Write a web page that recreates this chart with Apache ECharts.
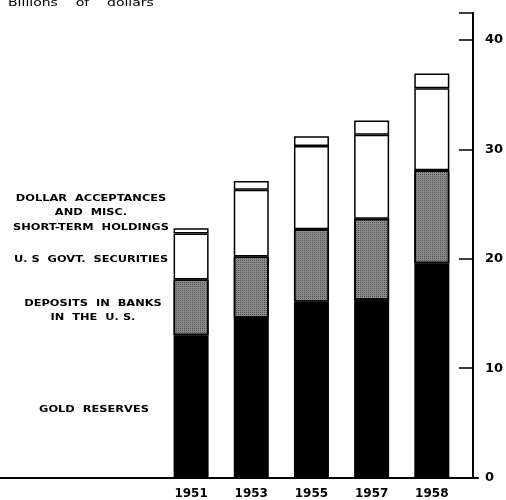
<!DOCTYPE html>
<html>
<head>
<meta charset="utf-8">
<script src="https://cdn.jsdelivr.net/npm/echarts@6/dist/echarts.min.js"></script>
<style>
html,body{margin:0;padding:0;background:#fff;}
#main{width:506px;height:500px;}
</style>
</head>
<body>
<div id="main"></div>
<script>
const years = ['1951', '1953', '1955', '1957', '1958'];
const goldReserves = [13.0, 14.6, 16.1, 16.25, 19.6];
const depositsInBanks = [5.1, 5.6, 6.6, 7.4, 8.5];
const govtSecurities = [4.2, 6.1, 7.6, 7.7, 7.5];
const acceptancesMisc = [0.5, 0.8, 0.9, 1.3, 1.35];
const yTickLabels = [0, 10, 20, 30, 40];

const chart = echarts.init(document.getElementById('main'));
const fontFam = '"DejaVu Sans", sans-serif';

function segStyle(color, extra) {
  return Object.assign({ color: color, borderColor: '#000', borderWidth: 1.5 }, extra || {});
}
function label(text, x, y) {
  return {
    type: 'text', x: x, y: y, scaleX: 1.2,
    style: { text: text, textAlign: 'center', textVerticalAlign: 'middle', fontFamily: fontFam, fontWeight: 'bold', fontSize: 9.5, fill: '#000' }
  };
}

const option = {
  animation: false,
  backgroundColor: '#fff',
  grid: [
    { left: 161, right: 44, top: 12.7, bottom: 22.5 },
    { left: 0, right: 28, top: 12.7, bottom: 22.5 }
  ],
  xAxis: [
    {
      type: 'category', data: years, gridIndex: 0,
      axisLine: { show: false }, axisTick: { show: false },
      axisLabel: { color: '#000', fontFamily: fontFam, fontWeight: 'bold', fontSize: 12, margin: 10 }
    },
    {
      type: 'value', gridIndex: 1, min: 0, max: 1,
      axisLine: { show: true, onZero: false, lineStyle: { color: '#000', width: 2 } },
      axisTick: { show: false }, axisLabel: { show: false }, splitLine: { show: false }
    }
  ],
  yAxis: [
    {
      type: 'value', gridIndex: 0, position: 'right', offset: 11,
      min: 0, max: 42.5, interval: 10,
      axisLine: { show: true, lineStyle: { color: '#000', width: 2 } },
      axisTick: { show: true, inside: true, length: 14, lineStyle: { color: '#000', width: 1.5 } },
      axisLabel: {
        color: '#000', fontFamily: fontFam, fontWeight: 'bold', fontSize: 13, margin: 12,
        formatter: function (v) { return yTickLabels.indexOf(v) >= 0 ? String(v) : ''; }
      },
      splitLine: { show: false }
    },
    { type: 'value', gridIndex: 1, show: false, min: 0, max: 1 }
  ],
  graphic: [
    { type: 'text', x: 8, y: 3.5, scaleX: 1.4, style: { text: 'Billions    of    dollars', textVerticalAlign: 'middle', fontFamily: fontFam, fontSize: 10, fill: '#000' } },
    label('DOLLAR  ACCEPTANCES', 91, 199),
    label('AND  MISC.', 91, 213),
    label('SHORT-TERM  HOLDINGS', 91, 228),
    label('U. S  GOVT.  SECURITIES', 91, 260),
    label('DEPOSITS  IN  BANKS', 93, 304),
    label('IN  THE  U. S.', 93, 318),
    label('GOLD  RESERVES', 94, 410)
  ],
  series: [
    { name: 'Gold reserves', type: 'bar', stack: 'total', data: goldReserves, barWidth: 35, itemStyle: segStyle('#000') },
    {
      name: 'Deposits in banks in the U.S.', type: 'bar', stack: 'total', data: depositsInBanks, barWidth: 35,
      itemStyle: segStyle('#8c8c8c', {
        decal: { symbol: 'rect', symbolSize: 1, color: 'rgba(0,0,0,0.45)', dashArrayX: [1, 1], dashArrayY: [1, 1], rotation: 0 }
      })
    },
    { name: 'U.S. Govt. securities', type: 'bar', stack: 'total', data: govtSecurities, barWidth: 35, itemStyle: segStyle('#fff') },
    { name: 'Dollar acceptances and misc. short-term holdings', type: 'bar', stack: 'total', data: acceptancesMisc, barWidth: 35, itemStyle: segStyle('#fff') }
  ]
};
chart.setOption(option);
</script>
</body>
</html>
